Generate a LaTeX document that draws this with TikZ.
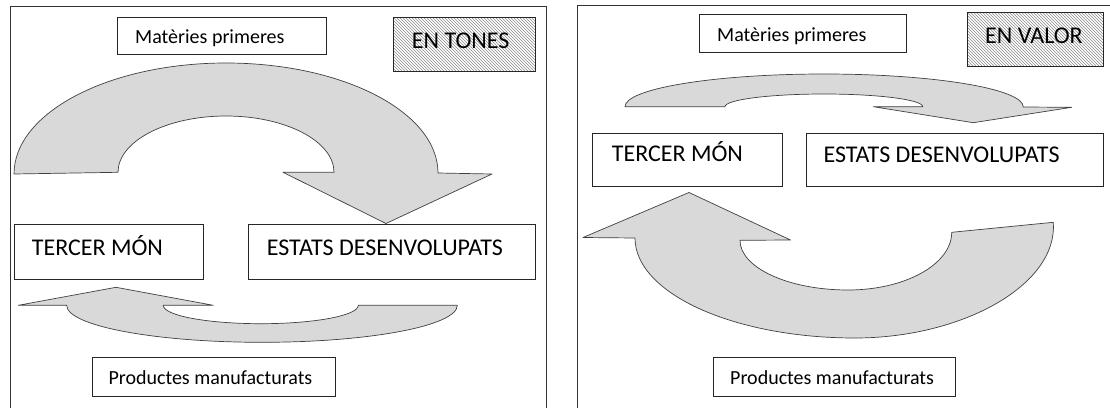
\documentclass[tikz,border=0pt]{standalone}
\usepackage{fontspec}
\setmainfont{Carlito}
\usetikzlibrary{patterns}
\begin{document}
\begin{tikzpicture}[x=1pt,y=-1pt,
  frame/.style={line width=0.9pt, draw=black!80},
  boxshape/.style={draw=black!85, line width=0.8pt, anchor=north west, inner sep=0pt},
  txt/.style={anchor=base west, inner sep=0pt, font=\fontsize{20}{24}\selectfont},
  big/.style={font=\fontsize{24}{28}\selectfont},
  hatch/.style={pattern=north west lines, pattern color=black!45},
  blockarrow/.style={fill=black!15, draw=black!75, line width=0.7pt, line join=round}]
\useasboundingbox (0,0) rectangle (1110,407);
\fill[white] (0,0) rectangle (1110,407);
\clip (0,0) rectangle (1110,407);
% frames
\draw[frame] (10,420) -- (10,6.7) -- (546.7,6.7) -- (546.7,420);
\draw[frame] (577.3,420) -- (577.3,5) -- (1120,5);
% left panel arrows
\draw[blockarrow] (14,174) .. controls (14,112.7) and (108.9,63) .. (226,63)
  .. controls (343.1,63) and (438,112.2) .. (438,173)
  -- (492,174) -- (386,223.5) -- (283,172.3) -- (334,172.3)
  .. controls (334,141.2) and (285.6,116) .. (226,116)
  .. controls (166.4,116) and (118,141.2) .. (118,172.3) -- cycle;
\draw[blockarrow] (66.7,305.3) .. controls (66.7,325.7) and (154.1,342.3) .. (262,342.3)
  .. controls (369.9,342.3) and (457.3,325.7) .. (457.3,305.3)
  -- (358.3,305.3) .. controls (358.3,315.5) and (314.7,323.7) .. (260.8,323.7)
  .. controls (206.9,323.7) and (163.3,315.5) .. (163.3,305.3)
  -- (213.3,305.3) -- (116,287.3) -- (18.3,305.3) -- cycle;
% right panel arrows
\draw[blockarrow] (625,106.7) .. controls (625,88.6) and (714.1,74) .. (824,74)
  .. controls (933.9,74) and (1023.3,88.8) .. (1023.3,107)
  -- (1071.7,107.3) -- (973.3,122.7) -- (873.3,106.7) -- (922.7,106.7)
  .. controls (922.7,99.7) and (878.5,94) .. (824,94)
  .. controls (769.5,94) and (725,99.7) .. (725,106.7) -- cycle;
\draw[blockarrow] (635,238) .. controls (635,293.2) and (733.5,338) .. (855,338)
  .. controls (962,338) and (1058,285) .. (1053.3,222.3)
  -- (951.7,232.3) .. controls (951.7,264.2) and (905.3,290) .. (848,290)
  .. controls (788.4,290) and (740,267.7) .. (740,240.3)
  -- (790.5,240) -- (689,192.5) -- (583,237.5) -- cycle;
% left panel boxes
\node[boxshape, minimum width=208.4pt, minimum height=37.3pt] (matL) at (117.3,16.7) {};
\node[txt] (matLt) at (135,43.3) {Matèries primeres};
\node[boxshape, hatch, minimum width=141.7pt, minimum height=54pt] (tonL) at (393.3,16.7) {};
\node[txt, big] (tonLt) at (411.7,48.3) {EN TONES};
\node[boxshape, minimum width=189.3pt, minimum height=55pt] (terL) at (14,223.7) {};
\node[txt, big] (terLt) at (31.7,255.3) {TERCER MÓN};
\node[boxshape, minimum width=286.7pt, minimum height=55pt] (estL) at (248.3,223.7) {};
\node[txt, big] (estLt) at (266.7,255.3) {ESTATS DESENVOLUPATS};
\node[boxshape, minimum width=243.3pt, minimum height=38.7pt] (proL) at (91.7,357) {};
\node[txt] (proLt) at (108.3,384.7) {Productes manufacturats};
% right panel boxes
\node[boxshape, minimum width=206.4pt, minimum height=38pt] (matR) at (699.3,14) {};
\node[txt] (matRt) at (717,41.7) {Matèries primeres};
\node[boxshape, hatch, minimum width=136.6pt, minimum height=54.3pt] (valR) at (966.7,11.7) {};
\node[txt, big] (valRt) at (985,43.3) {EN VALOR};
\node[boxshape, minimum width=190pt, minimum height=52.7pt] (terR) at (591.7,133.3) {};
\node[txt, big] (terRt) at (611.7,161.7) {TERCER MÓN};
\node[boxshape, minimum width=297.6pt, minimum height=52.7pt] (estR) at (805.7,133.3) {};
\node[txt, big] (estRt) at (823.3,162) {ESTATS DESENVOLUPATS};
\node[boxshape, minimum width=242.3pt, minimum height=38.7pt] (proR) at (712.7,357) {};
\node[txt] (proRt) at (730,384.7) {Productes manufacturats};
\end{tikzpicture}
\end{document}
